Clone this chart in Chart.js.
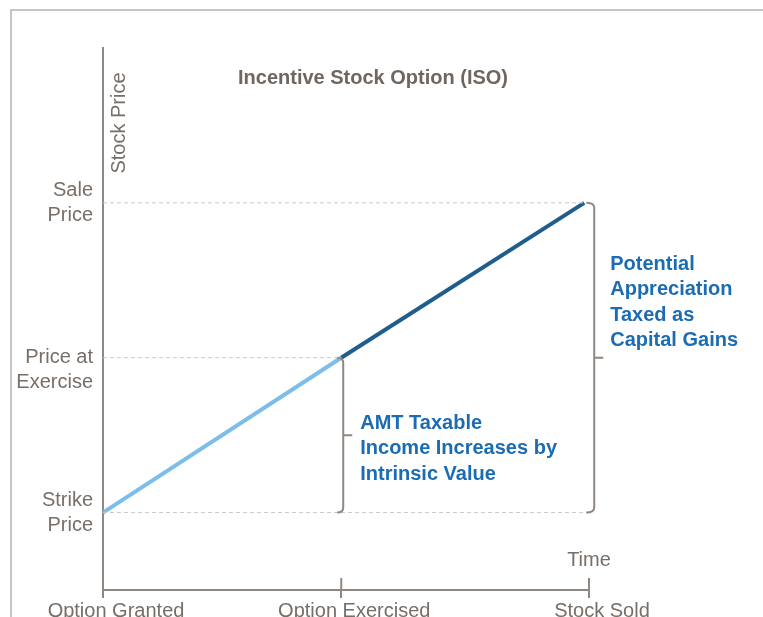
<!DOCTYPE html>
<html>
<head>
<meta charset="utf-8">
<script src="https://cdn.jsdelivr.net/npm/chart.js@4/dist/chart.umd.min.js"></script>
<style>
  body { margin: 0; background: #fff; }
  #wrap { width: 763px; height: 617px; overflow: hidden; }
</style>
</head>
<body>
<div id="wrap"><canvas id="iso-chart" width="763" height="617"></canvas></div>
<script>
// time axis: where each event sits, and its label
const timeLabels = ['Option Granted', 'Option Exercised', 'Stock Sold'];
const timeTicks = [0, 1, 2.04];

// price axis
const priceTicks = [1, 2, 3];
const priceLabels = [['Strike', 'Price'], ['', 'Price at', 'Exercise'], ['Sale', 'Price']];

// the stock price path
const preExerciseX = [0, 1];
const preExerciseY = [1, 2];
const postExerciseX = [1, 2.02];
const postExerciseY = [2, 3];

// dashed guide levels and where they stop on the time axis
const guideLevels = [1, 2, 3];
const guideEnds = [2.03, 1, 2.02];

const gray = '#776e67';
const axisGray = '#8e8782';
const blue = '#1b6cb3';

const toPoints = (xs, ys) => xs.map((x, i) => ({ x: x, y: ys[i] }));

const guideSets = guideLevels.map((level, i) => ({
    data: [{ x: 0, y: level }, { x: guideEnds[i], y: level }],
    borderColor: '#c9c9c9',
    borderWidth: 1,
    borderDash: [4, 3],
    pointRadius: 0
}));

function drawBracket(ctx, x, top, bottom, hook, tip) {
    const mid = (top + bottom) / 2;
    ctx.beginPath();
    ctx.moveTo(x - hook, top);
    ctx.quadraticCurveTo(x, top, x, top + 5);
    ctx.lineTo(x, bottom - 5);
    ctx.quadraticCurveTo(x, bottom, x - hook, bottom);
    ctx.moveTo(x, mid);
    ctx.lineTo(x + tip, mid);
    ctx.stroke();
}

function drawLines(ctx, lines, x, y, step) {
    lines.forEach((line, i) => ctx.fillText(line, x, y + i * step));
}

const decorations = {
    id: 'decorations',
    beforeDraw(chart) {
        const ctx = chart.ctx;
        ctx.save();
        ctx.fillStyle = '#fff';
        ctx.fillRect(0, 0, chart.width, chart.height);
        // outer frame
        ctx.strokeStyle = '#b4b4b4';
        ctx.lineWidth = 1.5;
        ctx.beginPath();
        ctx.moveTo(11, chart.height);
        ctx.lineTo(11, 10);
        ctx.lineTo(chart.width, 10);
        ctx.stroke();
        ctx.restore();
    },
    afterDraw(chart) {
        const ctx = chart.ctx;
        const xs = chart.scales.x;
        const ys = chart.scales.y;
        const area = chart.chartArea;
        ctx.save();

        // upper half of the time ticks
        ctx.strokeStyle = axisGray;
        ctx.lineWidth = 2;
        timeTicks.forEach(t => {
            const px = xs.getPixelForValue(t);
            ctx.beginPath();
            ctx.moveTo(px, area.bottom - 12);
            ctx.lineTo(px, area.bottom);
            ctx.stroke();
        });

        // title and axis names
        ctx.fillStyle = '#6f665f';
        ctx.font = 'bold 20px "Liberation Sans", Arial, sans-serif';
        ctx.textAlign = 'center';
        ctx.textBaseline = 'middle';
        ctx.fillText('Incentive Stock Option (ISO)', 373, 78);

        ctx.fillStyle = gray;
        ctx.font = '20px "Liberation Sans", Arial, sans-serif';
        ctx.fillText('Time', xs.getPixelForValue(timeTicks[2]), area.bottom - 30);
        ctx.save();
        ctx.translate(area.left + 16, 123);
        ctx.rotate(-Math.PI / 2);
        ctx.fillText('Stock Price', 0, 0);
        ctx.restore();

        // brackets
        ctx.strokeStyle = axisGray;
        ctx.lineWidth = 2;
        const exX = xs.getPixelForValue(preExerciseX[1]);
        drawBracket(ctx, exX + 2, ys.getPixelForValue(2), ys.getPixelForValue(1), 6, 9);
        const soldX = xs.getPixelForValue(postExerciseX[1]);
        drawBracket(ctx, soldX + 10, ys.getPixelForValue(3), ys.getPixelForValue(1), 8, 9);

        // notes
        ctx.fillStyle = blue;
        ctx.font = 'bold 20px "Liberation Sans", Arial, sans-serif';
        ctx.textAlign = 'left';
        drawLines(ctx, ['AMT Taxable', 'Income Increases by', 'Intrinsic Value'], exX + 19, 423, 25.5);
        drawLines(ctx, ['Potential', 'Appreciation', 'Taxed as', 'Capital Gains'], soldX + 26, 264, 25.5);

        ctx.restore();
    }
};

new Chart(document.getElementById('iso-chart'), {
    type: 'line',
    data: {
        datasets: [
            ...guideSets,
            {
                data: toPoints(preExerciseX, preExerciseY),
                borderColor: '#7cbde9',
                borderWidth: 4,
                pointRadius: 0
            },
            {
                data: toPoints(postExerciseX, postExerciseY),
                borderColor: '#1f5d8d',
                borderWidth: 4,
                pointRadius: 0
            }
        ]
    },
    options: {
        responsive: false,
        animation: false,
        layout: { padding: { top: 48, right: 174, left: 0, bottom: 0 } },
        plugins: {
            legend: { display: false },
            tooltip: { enabled: false }
        },
        scales: {
            x: {
                type: 'linear',
                min: 0,
                max: timeTicks[timeTicks.length - 1],
                afterBuildTicks: scale => { scale.ticks = timeTicks.map(v => ({ value: v })); },
                afterFit: scale => {
                    scale.height = 27;
                    scale.paddingLeft = 0;
                    scale.paddingRight = 0;
                },
                grid: { display: true, drawOnChartArea: false, drawTicks: true, tickLength: 8, color: axisGray, lineWidth: 2 },
                border: { display: true, color: axisGray, width: 2 },
                ticks: {
                    autoSkip: false,
                    maxRotation: 0,
                    padding: 1,
                    labelOffset: 13,
                    color: gray,
                    font: { family: '"Liberation Sans", Arial, sans-serif', size: 20 },
                    callback: (v, i) => timeLabels[i]
                }
            },
            y: {
                type: 'linear',
                min: 0.5,
                max: 4,
                afterBuildTicks: scale => { scale.ticks = priceTicks.map(v => ({ value: v })); },
                afterFit: scale => {
                    scale.width = 103;
                    scale.paddingTop = 0;
                    scale.paddingBottom = 0;
                },
                grid: { display: false, drawTicks: false },
                border: { display: true, color: axisGray, width: 2 },
                ticks: {
                    padding: 10,
                    color: gray,
                    font: { family: '"Liberation Sans", Arial, sans-serif', size: 20, lineHeight: 1.25 },
                    callback: (v, i) => priceLabels[i]
                }
            }
        }
    },
    plugins: [decorations]
});
</script>
</body>
</html>
